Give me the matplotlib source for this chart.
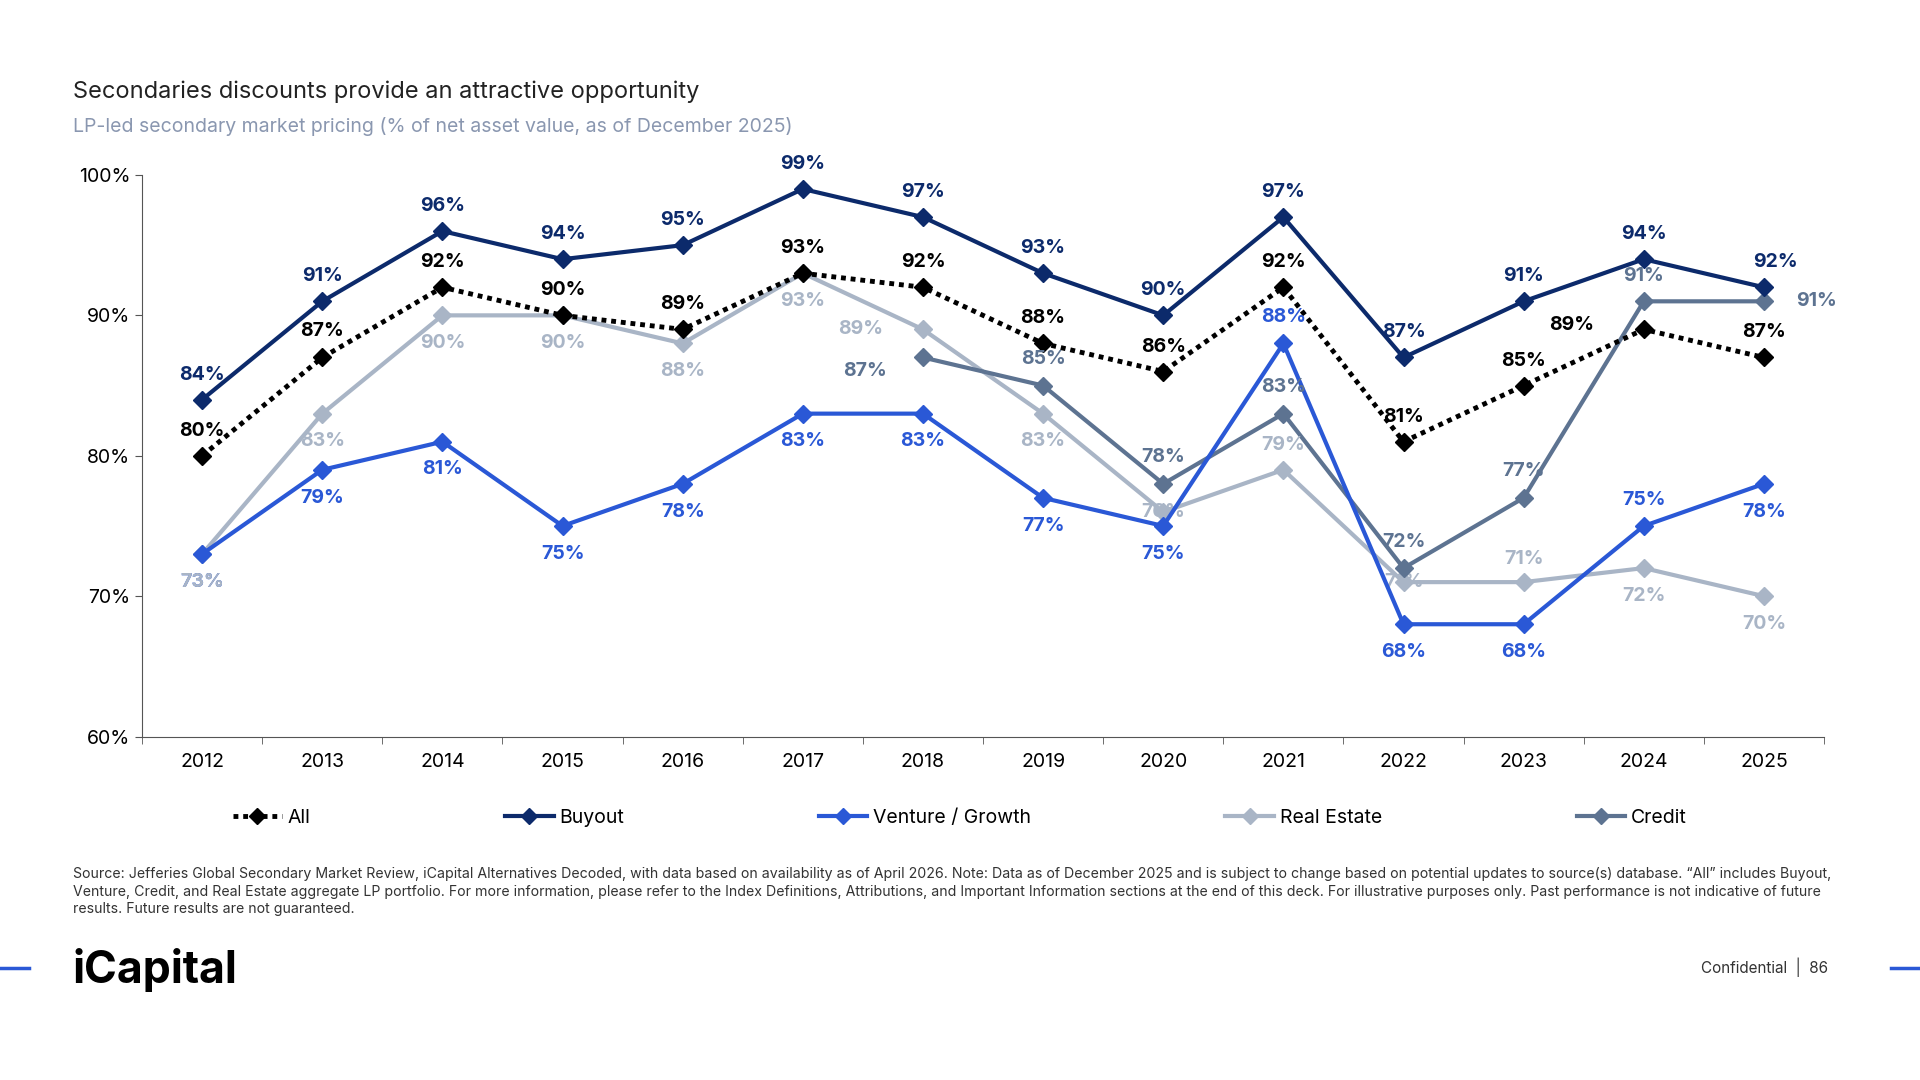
import matplotlib.pyplot as plt
from matplotlib.lines import Line2D
plt.rcParams['font.family'] = ['Inter', 'DejaVu Sans']

years = [str(y) for y in range(2012, 2026)]
all_v = [80, 87, 92, 90, 89, 93, 92, 88, 86, 92, 81, 85, 89, 87]
buyout = [84, 91, 96, 94, 95, 99, 97, 93, 90, 97, 87, 91, 94, 92]
venture = [73, 79, 81, 75, 78, 83, 83, 77, 75, 88, 68, 68, 75, 78]
real_estate = [73, 83, 90, 90, 88, 93, 89, 83, 76, 79, 71, 71, 72, 70]
credit_years = years[6:]
credit = [87, 85, 78, 83, 72, 77, 91, 91]

C_ALL = 'black'; C_B = '#0c2a6b'; C_V = '#2a58d6'; C_RE = '#a9b5c6'; C_C = '#5d7391'

fig = plt.figure(figsize=(19.2, 10.8), dpi=100)
ax = fig.add_axes([0.074, 0.318, 0.876, 0.52])
x = list(range(len(years)))
xc = x[6:]
ax.plot(x, real_estate, color=C_RE, lw=3, marker='D', ms=9, zorder=2)
ax.plot(xc, credit, color=C_C, lw=3, marker='D', ms=9, zorder=3)
ax.plot(x, venture, color=C_V, lw=3, marker='D', ms=9, zorder=4)
ax.plot(x, all_v, color=C_ALL, lw=3.5, ls=(0, (1, 1)), marker='D', ms=9, zorder=5)
ax.plot(x, buyout, color=C_B, lw=3, marker='D', ms=9, zorder=6)

fs = 14
def lab(xs, vals, color, offs, z=10):
    for xi, v, o in zip(xs, vals, offs):
        dx, dy = o
        zz = 1 if (dx, dy) == (0, 0) else z
        ax.annotate(f'{v}%', (xi, v), xytext=(dx, dy), textcoords='offset points',
                    ha='center', va='center', color=color, fontsize=fs, fontweight='bold', zorder=zz)
U = (0, 18); D = (0, -20); H = (0, 0)
lab(x, buyout, C_B, [U]*13 + [(8, 18)])
lab(x, all_v, C_ALL, [U, (0, 19), U, U, U, U, U, U, U, U, (0, 18), U, (-52, 3), U])
lab(x, venture, C_V, [D, D, D, D, D, D, D, D, D, (0, 19), D, D, (0, 19), D])
lab(x, real_estate, C_RE, [D, D, D, D, D, D, (-45, 0), D, H, (0, 18), H, (0, 17), D, D])
lab(xc, credit, C_C, [(-42, -10), (0, 19), (0, 19), (0, 19), (0, 19), (0, 19), (0, 18), (38, 0)])

ax.set_ylim(60, 100)
ax.set_xlim(-0.5, len(years) - 0.5)
ax.set_yticks([60, 70, 80, 90, 100])
ax.set_yticklabels([f'{t}%' for t in [60, 70, 80, 90, 100]], fontsize=14)
ax.set_xticks(x)
ax.set_xticklabels(years, fontsize=14)
ax.set_xticks([i - 0.5 for i in range(len(years) + 1)], minor=True)
ax.tick_params(axis='x', which='major', length=0, pad=12)
ax.tick_params(axis='x', which='minor', length=5, color='#555')
ax.tick_params(axis='y', length=5, color='#555')
for s in ['top', 'right']:
    ax.spines[s].set_visible(False)
for s in ['left', 'bottom']:
    ax.spines[s].set_color('#555')

handles = [
    Line2D([], [], color=C_ALL, lw=3.5, ls=(0, (1, 1)), marker='D', ms=8),
    Line2D([], [], color=C_B, lw=3, marker='D', ms=8),
    Line2D([], [], color=C_V, lw=3, marker='D', ms=8),
    Line2D([], [], color=C_RE, lw=3, marker='D', ms=8),
    Line2D([], [], color=C_C, lw=3, marker='D', ms=8),
]
fig.legend(handles, ['All', 'Buyout', 'Venture / Growth', 'Real Estate', 'Credit'],
           loc='center', bbox_to_anchor=(0.5, 0.243), ncol=5, frameon=False,
           fontsize=14, columnspacing=10, handlelength=2.5, handletextpad=0.3)

fig.text(0.038, 0.909, 'Secondaries discounts provide an attractive opportunity', fontsize=17, color='#222')
fig.text(0.038, 0.878, 'LP-led secondary market pricing (% of net asset value, as of December 2025)', fontsize=14, color='#8a97b0')
fig.text(0.038, 0.197,
         'Source: Jefferies Global Secondary Market Review, iCapital Alternatives Decoded, with data based on availability as of April 2026. Note: Data as of December 2025 and is subject to change based on potential updates to source(s) database. \u201cAll\u201d includes Buyout,\n'
         'Venture, Credit, and Real Estate aggregate LP portfolio. For more information, please refer to the Index Definitions, Attributions, and Important Information sections at the end of this deck. For illustrative purposes only. Past performance is not indicative of future\n'
         'results. Future results are not guaranteed.', fontsize=10.2, color='#333', va='top', linespacing=1.3)
fig.text(0.038, 0.102, 'iCapital', fontsize=32, fontweight='bold', color='black', va='center')
fig.text(0.952, 0.104, 'Confidential  |  86', fontsize=11, color='#333', va='center', ha='right')
fig.add_artist(Line2D([0.0, 0.015], [0.104, 0.104], color=C_V, lw=2.5))
fig.add_artist(Line2D([0.985, 1.0], [0.104, 0.104], color=C_V, lw=2.5))
fig.savefig('out.png', dpi=100, facecolor='white')
